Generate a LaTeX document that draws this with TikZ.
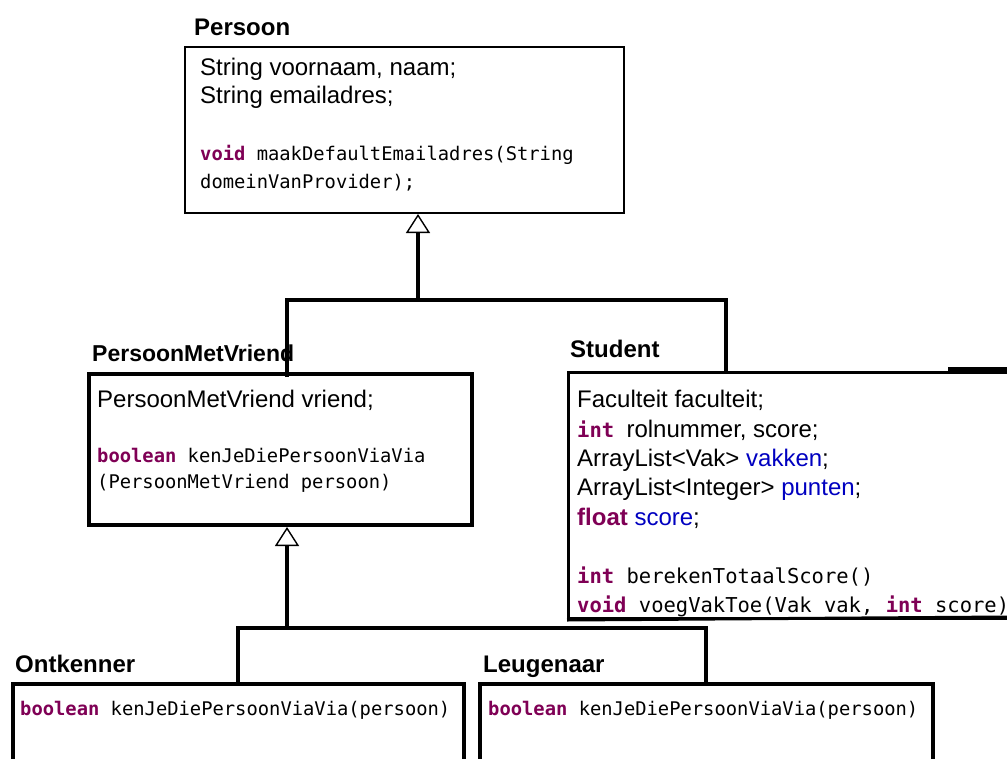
\documentclass[tikz,border=0pt]{standalone}
\usepackage{fontspec}
\setmainfont{Liberation Sans}
\newfontfamily\codefont{DejaVu Sans Mono}
\usetikzlibrary{arrows.meta}
\definecolor{kw}{RGB}{127,0,85}
\definecolor{fld}{RGB}{0,0,192}
\newcommand{\kwd}[1]{\textcolor{kw}{\textbf{#1}}}
\newcommand{\fldn}[1]{\textcolor{fld}{#1}}
\tikzset{
  classbox/.style={draw=black, anchor=north west, inner sep=0pt, fill=none},
  classname/.style={anchor=base west, inner sep=0pt, font=\fontsize{24}{29}\selectfont\bfseries},
  body/.style={anchor=base west, inner sep=0pt, font=\fontsize{24}{29}\selectfont},
  code/.style={anchor=base west, inner sep=0pt, font=\codefont\fontsize{18.8}{28}\selectfont},
  bigcode/.style={anchor=base west, inner sep=0pt, font=\codefont\fontsize{20.5}{29}\selectfont},
  conn/.style={draw=black, line width=4pt},
  inherit/.style={conn, -{Triangle[fill=white, length=19pt 0, width=24pt 0, line width=1.4pt 0]}}
}
\begin{document}
\begin{tikzpicture}[x=1pt, y=-1pt]
\useasboundingbox (0,0) rectangle (1007,758);
\clip (0,0) rectangle (1007,758);

% class boxes
\node[classbox, line width=2pt, minimum width=439pt, minimum height=166pt] (persoon) at (184,46) {};
\node[classbox, line width=4pt, minimum width=383pt, minimum height=151pt] (pmv) at (87,372) {};
\node[classbox, line width=3pt, minimum width=480pt, minimum height=246pt] (student) at (567,371) {};
\node[classbox, line width=4pt, minimum width=451pt, minimum height=160pt] (ontkenner) at (11,682) {};
\node[classbox, line width=4pt, minimum width=453pt, minimum height=160pt] (leugenaar) at (478,682) {};
\draw[line width=4pt] (948,369) -- (1007,369);

% Persoon
\node[classname] (lpersoon) at (194,35) {Persoon};
\node[body] (p1) at (200,75) {String voornaam, naam;};
\node[body] (p2) at (200,103) {String emailadres;};
\node[code] (p3) at (200,160) {\kwd{void} maakDefaultEmailadres(String};
\node[code] (p4) at (200,188) {domeinVanProvider);};

% PersoonMetVriend
\node[classname, font=\fontsize{23}{28}\selectfont\bfseries] (lpmv) at (92,361) {PersoonMetVriend};
\node[body] (v1) at (97,407) {PersoonMetVriend vriend;};
\node[code] (v2) at (97,462) {\kwd{boolean} kenJeDiePersoonViaVia};
\node[code] (v3) at (97,488) {(PersoonMetVriend persoon)};

% Student
\node[classname] (lstudent) at (570,357) {Student};
\node[body] (s1) at (577,407) {Faculteit faculteit;};
\node[body] (s2) at (577,437) {{\codefont\fontsize{20.5}{29}\selectfont\kwd{int} }rolnummer, score;};
\node[body] (s3) at (577,466) {ArrayList<Vak> \fldn{vakken};};
\node[body] (s4) at (577,495) {ArrayList<Integer> \fldn{punten};};
\node[body] (s5) at (577,525) {\kwd{float} \fldn{score};};
\node[bigcode] (s6) at (577,583) {\kwd{int} berekenTotaalScore()};
\node[bigcode] (s7) at (577,612) {\kwd{void} voegVakToe(Vak vak, \kwd{int} score)};

% Ontkenner and Leugenaar
\node[classname] (lontk) at (15,672) {Ontkenner};
\node[code] (o1) at (20,715) {\kwd{boolean} kenJeDiePersoonViaVia(persoon)};
\node[classname] (lleug) at (483,672) {Leugenaar};
\node[code] (l1) at (488,715) {\kwd{boolean} kenJeDiePersoonViaVia(persoon)};

% redraw the bottom edge of Student over its last code line
\draw[line width=3pt] (student.south west) -- (1007,617);

% generalisation: PersoonMetVriend and Student extend Persoon
\coordinate (j1) at (418,300);
\coordinate (a1) at (287,300);
\coordinate (a2) at (726,300);
\draw[inherit] (j1) -- (j1 |- persoon.south);
\draw[conn] ([yshift=-5pt]a1 |- pmv.north) -- (a1) -- (a2) -- (a2 |- student.north);

% generalisation: Ontkenner and Leugenaar extend PersoonMetVriend
\coordinate (j2) at (287,628);
\coordinate (b1) at (238,628);
\coordinate (b2) at (706,628);
\draw[inherit] (j2) -- (j2 |- pmv.south);
\draw[conn] (b1 |- ontkenner.north) -- (b1) -- (b2) -- (b2 |- leugenaar.north);
\end{tikzpicture}
\end{document}
